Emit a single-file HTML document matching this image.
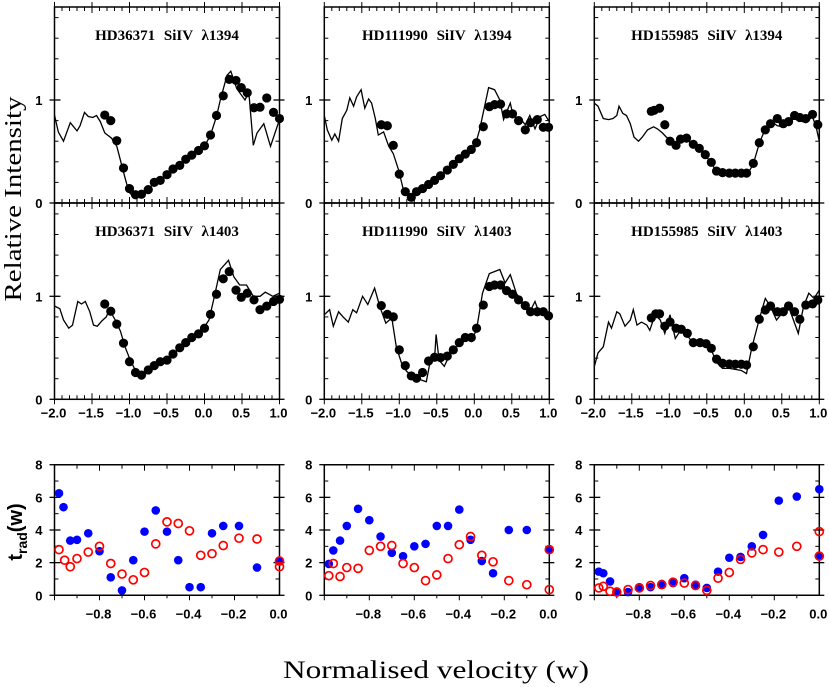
<!DOCTYPE html>
<html><head><meta charset="utf-8"><style>
html,body{margin:0;padding:0;background:#fff}
svg{display:block}
.tl{font-family:"Liberation Sans",sans-serif;font-weight:bold;font-size:13px}
.tt{font-family:"Liberation Serif",serif;font-weight:bold;font-size:15px}
</style></head><body>
<svg id="fig" width="829" height="687" viewBox="0 0 829 687" xmlns="http://www.w3.org/2000/svg">
<text x="21" y="199" transform="rotate(-90 21 199)" text-anchor="middle" font-family="Liberation Serif,serif" font-size="24" textLength="205" lengthAdjust="spacingAndGlyphs">Relative Intensity</text>
<text x="22" y="532" transform="rotate(-90 22 532)" text-anchor="middle" font-family="Liberation Sans,sans-serif" font-weight="bold" font-size="20">t<tspan font-size="14" dy="5">rad</tspan><tspan dy="-5">(w)</tspan></text>
<text x="436" y="678" text-anchor="middle" font-family="Liberation Serif,serif" font-size="25" textLength="306" lengthAdjust="spacingAndGlyphs">Normalised velocity (w)</text>
</svg>
<script>
// ---- data: top panels (velocity, relative intensity) ----
const titles = ["HD36371","HD111990","HD155985"];
const lines = ["1394","1403"];
const topTicksX = [-2.0,-1.5,-1.0,-0.5,0.0,0.5,1.0];
const topTickLabels = ["\u22122.0","\u22121.5","\u22121.0","\u22120.5","0.0","0.5","1.0"];
const a1DotX=[-1.33,-1.25,-1.17,-1.08,-1.0,-0.92,-0.84,-0.75,-0.67,-0.59,-0.5,-0.42,-0.33,-0.25,-0.17,-0.08,0.0,0.08,0.16,0.25,0.33,0.42,0.49,0.57,0.66,0.74,0.83,0.92,1.0];
const a1DotY=[0.854,0.80,0.605,0.34,0.14,0.08,0.085,0.13,0.2,0.22,0.275,0.33,0.365,0.425,0.465,0.51,0.555,0.66,0.85,1.04,1.2,1.19,1.12,1.07,0.925,0.93,1.02,0.88,0.82];
const a1LineX=[-2,-1.95,-1.88,-1.79,-1.7,-1.66,-1.6,-1.55,-1.49,-1.44,-1.39,-1.33,-1.24,-1.17,-1.08,-1.01,-0.95,-0.84,-0.75,-0.67,-0.59,-0.5,-0.42,-0.33,-0.25,-0.17,-0.08,0.0,0.08,0.16,0.21,0.3,0.35,0.43,0.54,0.59,0.65,0.7,0.79,0.88,1.0];
const a1LineY=[0.854,0.69,0.6,0.78,0.7,0.75,0.88,0.84,0.83,0.85,0.79,0.68,0.63,0.55,0.30,0.11,0.06,0.08,0.13,0.2,0.21,0.27,0.32,0.36,0.42,0.46,0.5,0.55,0.66,0.84,1.0,1.24,1.28,1.11,1.0,1.08,0.56,0.68,0.77,0.55,0.81];
const a2DotX=[-1.33,-1.25,-1.17,-1.08,-1.0,-0.92,-0.84,-0.75,-0.67,-0.59,-0.5,-0.42,-0.33,-0.25,-0.17,-0.08,0.0,0.08,0.16,0.25,0.33,0.42,0.49,0.57,0.66,0.74,0.83,0.92,1.0];
const a2DotY=[0.925,0.855,0.73,0.545,0.365,0.26,0.235,0.285,0.327,0.365,0.38,0.44,0.5,0.55,0.6,0.635,0.69,0.825,1.02,1.17,1.24,1.06,0.99,1.03,0.965,0.87,0.905,0.95,0.97];
const a2LineX=[-2,-1.93,-1.88,-1.81,-1.76,-1.69,-1.64,-1.59,-1.53,-1.48,-1.43,-1.37,-1.31,-1.27,-1.19,-1.12,-1.06,-0.99,-0.92,-0.84,-0.75,-0.67,-0.59,-0.5,-0.42,-0.33,-0.25,-0.17,-0.08,0.0,0.06,0.12,0.21,0.32,0.39,0.47,0.56,0.65,0.74,0.81,0.91,1.0];
const a2LineY=[0.906,0.88,0.77,0.69,0.72,0.95,0.925,0.95,0.85,0.72,0.71,0.76,0.80,0.87,0.77,0.66,0.51,0.38,0.28,0.24,0.28,0.33,0.36,0.38,0.43,0.5,0.55,0.6,0.63,0.705,0.77,0.96,1.26,1.35,1.19,1.11,1.11,1.0,1.0,1.04,1.0,1.03];
const b1DotX=[-1.24,-1.16,-1.08,-1.0,-0.92,-0.84,-0.77,-0.69,-0.61,-0.53,-0.45,-0.36,-0.28,-0.2,-0.12,-0.04,0.03,0.12,0.2,0.27,0.35,0.43,0.51,0.59,0.68,0.75,0.84,0.92,0.99];
const b1DotY=[0.76,0.75,0.56,0.28,0.11,0.055,0.11,0.14,0.18,0.22,0.265,0.32,0.375,0.43,0.475,0.52,0.585,0.74,0.935,0.955,0.96,0.865,0.865,0.80,0.71,0.78,0.81,0.735,0.735];
const b1LineX=[-2,-1.96,-1.9,-1.86,-1.81,-1.76,-1.7,-1.66,-1.61,-1.57,-1.51,-1.46,-1.41,-1.37,-1.32,-1.28,-1.21,-1.14,-1.08,-1.01,-0.95,-0.84,-0.77,-0.69,-0.61,-0.53,-0.45,-0.36,-0.28,-0.2,-0.12,-0.01,0.07,0.19,0.27,0.34,0.39,0.44,0.48,0.52,0.61,0.68,0.74,0.81,0.88,0.94,1.0];
const b1LineY=[0.85,0.71,0.61,0.67,0.6,0.82,0.90,1.02,0.94,1.03,1.10,0.92,1.01,0.97,0.82,0.66,0.69,0.55,0.48,0.32,0.14,0.03,0.12,0.15,0.19,0.22,0.26,0.32,0.37,0.42,0.46,0.51,0.71,1.12,1.1,1.0,0.81,0.90,0.97,0.84,0.82,0.76,0.85,0.72,0.84,0.86,0.79];
const b2DotX=[-1.24,-1.16,-1.08,-1.0,-0.92,-0.84,-0.77,-0.69,-0.61,-0.53,-0.45,-0.36,-0.28,-0.2,-0.12,-0.04,0.03,0.12,0.2,0.27,0.35,0.43,0.51,0.59,0.68,0.75,0.84,0.92,0.99];
const b2DotY=[0.91,0.825,0.80,0.48,0.327,0.227,0.204,0.26,0.372,0.408,0.405,0.42,0.48,0.55,0.60,0.60,0.69,0.915,1.095,1.11,1.11,1.055,1.02,0.965,0.91,0.85,0.85,0.85,0.81];
const b2LineX=[-2,-1.93,-1.88,-1.81,-1.75,-1.68,-1.62,-1.57,-1.49,-1.42,-1.33,-1.26,-1.18,-1.1,-1.04,-0.97,-0.9,-0.81,-0.72,-0.64,-0.58,-0.53,-0.51,-0.47,-0.4,-0.33,-0.28,-0.2,-0.12,-0.04,0.03,0.11,0.2,0.34,0.41,0.48,0.56,0.65,0.74,0.81,0.87,0.94,1.0];
const b2LineY=[0.82,0.87,0.71,0.85,0.80,0.75,0.87,0.84,1.0,0.92,1.08,0.90,0.74,0.79,0.51,0.35,0.27,0.22,0.19,0.17,0.40,0.40,0.63,0.38,0.32,0.43,0.47,0.54,0.59,0.56,0.68,1.03,1.22,1.26,1.13,1.21,1.03,0.93,0.85,0.95,0.83,0.87,0.77];
const c1DotX=[-1.24,-1.2,-1.13,-1.06,-0.99,-0.91,-0.85,-0.77,-0.68,-0.6,-0.52,-0.44,-0.37,-0.29,-0.2,-0.12,-0.04,0.03,0.12,0.2,0.28,0.35,0.44,0.52,0.59,0.67,0.74,0.82,0.91,0.98];
const c1DotY=[0.89,0.90,0.92,0.76,0.6,0.56,0.62,0.63,0.57,0.53,0.47,0.395,0.31,0.295,0.29,0.29,0.29,0.29,0.385,0.585,0.71,0.77,0.82,0.77,0.79,0.85,0.83,0.82,0.86,0.76];
const c1LineX=[-2,-1.95,-1.88,-1.81,-1.75,-1.7,-1.67,-1.62,-1.57,-1.52,-1.47,-1.41,-1.36,-1.29,-1.21,-1.16,-1.09,-1.04,-0.99,-0.91,-0.85,-0.77,-0.68,-0.6,-0.52,-0.44,-0.37,-0.29,-0.2,-0.12,-0.04,0.03,0.12,0.2,0.28,0.35,0.44,0.52,0.59,0.67,0.74,0.82,0.91,0.96,1.0];
const c1LineY=[0.97,0.94,0.82,0.81,0.82,0.85,0.94,0.87,0.85,0.77,0.64,0.6,0.64,0.71,0.74,0.72,0.68,0.64,0.62,0.58,0.61,0.62,0.56,0.52,0.46,0.39,0.3,0.28,0.27,0.26,0.27,0.26,0.38,0.58,0.72,0.80,0.75,0.74,0.80,0.82,0.80,0.78,0.84,0.73,0.6];
const c2DotX=[-1.24,-1.18,-1.13,-1.06,-0.99,-0.91,-0.84,-0.76,-0.68,-0.59,-0.51,-0.44,-0.37,-0.29,-0.2,-0.12,-0.04,0.03,0.12,0.2,0.28,0.35,0.44,0.52,0.59,0.67,0.74,0.82,0.91,0.98];
const c2DotY=[0.79,0.83,0.83,0.71,0.75,0.69,0.68,0.64,0.55,0.55,0.54,0.495,0.39,0.35,0.343,0.34,0.34,0.333,0.51,0.777,0.867,0.906,0.85,0.85,0.906,0.85,0.777,0.916,0.926,0.964];
const c2LineX=[-2,-1.95,-1.88,-1.81,-1.77,-1.7,-1.66,-1.59,-1.52,-1.48,-1.43,-1.37,-1.3,-1.26,-1.19,-1.12,-1.06,-0.99,-0.92,-0.84,-0.76,-0.68,-0.59,-0.51,-0.44,-0.37,-0.29,-0.2,-0.12,-0.04,0.03,0.1,0.2,0.28,0.35,0.43,0.52,0.6,0.72,0.79,0.86,0.93,1.0];
const c2LineY=[0.317,0.45,0.51,0.75,0.69,0.85,0.83,0.71,0.77,0.87,0.72,0.75,0.72,0.67,0.82,0.77,0.64,0.82,0.59,0.68,0.62,0.54,0.53,0.52,0.48,0.36,0.3,0.3,0.29,0.28,0.25,0.5,0.78,0.98,0.9,0.77,0.85,0.88,0.64,0.9,1.03,0.98,1.06];
const topDotsX=[[a1DotX,a2DotX],[b1DotX,b2DotX],[c1DotX,c2DotX]];
const topDotsY=[[a1DotY,a2DotY],[b1DotY,b2DotY],[c1DotY,c2DotY]];
const topLineX=[[a1LineX,a2LineX],[b1LineX,b2LineX],[c1LineX,c2LineX]];
const topLineY=[[a1LineY,a2LineY],[b1LineY,b2LineY],[c1LineY,c2LineY]];
// ---- data: bottom panels (t_rad) ----
const botTicksX=[-0.8,-0.6,-0.4,-0.2,0.0];
const botTickLabels=["\u22120.8","\u22120.6","\u22120.4","\u22120.2","0.0"];
const botTicksY=[0,2,4,6,8];
const blue1X=[-0.98,-0.96,-0.93,-0.90,-0.85,-0.80,-0.75,-0.70,-0.65,-0.60,-0.55,-0.50,-0.45,-0.40,-0.35,-0.30,-0.25,-0.18,-0.10,0.0];
const blue1Y=[6.25,5.4,3.35,3.4,3.8,2.7,1.1,0.3,2.15,3.9,5.2,3.9,2.15,0.5,0.5,3.8,4.25,4.25,1.7,2.1];
const red1X=[-0.98,-0.955,-0.93,-0.90,-0.85,-0.80,-0.75,-0.70,-0.65,-0.60,-0.55,-0.50,-0.45,-0.40,-0.35,-0.30,-0.25,-0.18,-0.10,0.0,0.0];
const red1Y=[2.8,2.15,1.75,2.25,2.65,3.0,1.95,1.3,0.95,1.4,3.15,4.5,4.4,3.95,2.45,2.55,3.05,3.5,3.45,2.1,1.75];
const blue2X=[-0.98,-0.96,-0.93,-0.90,-0.85,-0.80,-0.75,-0.70,-0.65,-0.60,-0.55,-0.50,-0.45,-0.40,-0.35,-0.30,-0.25,-0.18,-0.10,0.0];
const blue2Y=[1.92,2.75,3.35,4.25,5.3,4.6,3.6,2.6,2.4,3.0,3.15,4.25,4.25,5.25,3.4,2.1,1.35,4.0,4.0,2.8];
const red2X=[-0.98,-0.96,-0.93,-0.90,-0.85,-0.80,-0.75,-0.70,-0.65,-0.60,-0.55,-0.50,-0.45,-0.40,-0.35,-0.30,-0.25,-0.18,-0.10,0.0,0.0];
const red2Y=[1.2,1.95,1.15,1.7,1.65,2.75,3.0,3.05,1.95,1.7,0.9,1.25,2.25,3.1,3.6,2.45,2.05,0.9,0.65,2.8,0.35];
const blue3X=[-0.98,-0.96,-0.93,-0.90,-0.85,-0.80,-0.75,-0.70,-0.65,-0.60,-0.55,-0.50,-0.45,-0.40,-0.35,-0.30,-0.25,-0.18,-0.10,0.0,0.0];
const blue3Y=[1.45,1.35,0.85,0.2,0.2,0.5,0.5,0.7,0.75,1.05,0.65,0.45,1.45,2.3,2.35,3.0,3.7,5.8,6.05,6.5,2.4];
const red3X=[-0.98,-0.96,-0.93,-0.90,-0.85,-0.80,-0.75,-0.70,-0.65,-0.60,-0.55,-0.50,-0.45,-0.40,-0.35,-0.30,-0.25,-0.18,-0.10,0.0,0.0];
const red3Y=[0.45,0.55,0.25,0.2,0.35,0.45,0.6,0.65,0.8,0.75,0.6,0.3,1.05,1.4,2.2,2.6,2.8,2.65,3.0,3.9,2.4];
const blueX=[blue1X,blue2X,blue3X], blueY=[blue1Y,blue2Y,blue3Y];
const redX=[red1X,red2X,red3X], redY=[red1Y,red2Y,red3Y];

const NS="http://www.w3.org/2000/svg";
const svg=document.getElementById('fig');
const LEFTS=[54.5,324.3,594.3], W=225;
function mk(tag,attrs,parent){const e=document.createElementNS(NS,tag);for(const k in attrs)e.setAttribute(k,attrs[k]);(parent||svg).appendChild(e);return e;}
function ln(g,x1,y1,x2,y2,sw){const e=mk('line',{x1:x1,y1:y1,x2:x2,y2:y2,stroke:'#000','stroke-width':sw||1},g);return e;}

for(let c=0;c<3;c++){
  const L=LEFTS[c], R=L+W;
  const sx=v=>L+(v+2)/3*W;
  for(let r=0;r<2;r++){
    const y0=r===0?203:399.3, top=r===0?7:203, k=103;
    const sy=v=>y0-v*k;
    const g=mk('g',{});
    
    
    const fr=mk('rect',{x:L,y:top,width:W,height:y0-top,fill:'none',stroke:'#000','stroke-width':1.5},g);
    
    
    for(let v=0.2;v<1.85;v+=0.2){const y=sy(v);ln(g,L,y,L+4,y);ln(g,R-4,y,R,y);}
    for(const v of [0,1]){const y=sy(v);ln(g,L-5,y,L+6,y,1.3);ln(g,R-6,y,R+5,y,1.3);
      const t=mk('text',{x:L-12,y:y+5,'text-anchor':'end',class:'tl'},g);t.textContent=String(v);
      
      }
    for(let v=-2;v<=1.001;v+=0.1){const x=sx(v);const maj=Math.abs(v*2-Math.round(v*2))<1e-6;
      ln(g,x,top,x,top+(maj?6:4));ln(g,x,y0,x,y0-(maj?6:4));
      if(maj){ln(g,x,y0,x,y0+5);ln(g,x,top,x,top-5);}}
    if(r===1){topTicksX.forEach((v,i)=>{const t=mk('text',{x:sx(v)-1,y:y0+18,'text-anchor':'middle',class:'tl'},g);t.textContent=topTickLabels[i];
      
      });}
    const tt=mk('text',{x:L+W/2,y:top+33,'text-anchor':'middle',class:'tt','word-spacing':'5'},g);
    tt.textContent=titles[c]+" SiIV \u03bb"+lines[r];
    
    
    const lx=topLineX[c][r], ly=topLineY[c][r];
    const pts=lx.map((v,i)=>sx(v).toFixed(1)+','+sy(ly[i]).toFixed(1)).join(' ');
    const pl=mk('polyline',{points:pts,fill:'none',stroke:'#000','stroke-width':1.3},g);
    
    
    const dx=topDotsX[c][r], dy=topDotsY[c][r];
    dx.forEach((v,i)=>{const d=mk('circle',{cx:sx(v),cy:sy(dy[i]),r:4.6,fill:'#000'},g);
      
      });
  }
  const top=464.7, y0=595.3, k=(y0-top)/8;
  const bx=v=>L+(v+1)*W, by=v=>y0-v*k;
  const g=mk('g',{});
  
  
  ln(g,L,top,R,top,1.5);ln(g,L,y0,R,y0,1.5);ln(g,L,top,L,y0,1.5);ln(g,R,top,R,y0,1.5);
  for(let v=1;v<8;v+=2){const y=by(v);ln(g,L,y,L+4,y);ln(g,R-4,y,R,y);}
  botTicksY.forEach(v=>{const y=by(v);ln(g,L-5,y,L+6,y,1.3);ln(g,R-6,y,R+5,y,1.3);
    const t=mk('text',{x:L-12,y:y+5,'text-anchor':'end',class:'tl'},g);t.textContent=String(v);
    
    });
  for(let i=1;i<10;i++){const x=bx(-1+i*0.1);ln(g,x,top,x,top+(i%2===0?6:4));ln(g,x,y0,x,y0+(i%2===0?5:3));}
  ln(g,L,y0,L,y0+5);
  botTicksX.forEach((v,i)=>{const t=mk('text',{x:bx(v)-1,y:y0+23,'text-anchor':'middle',class:'tl'},g);t.textContent=botTickLabels[i];
    
    });
  blueX[c].forEach((v,i)=>{const d=mk('circle',{cx:bx(v),cy:by(blueY[c][i]),r:4.3,fill:'#0000ff'},g);
    
    });
  redX[c].forEach((v,i)=>{const d=mk('circle',{cx:bx(v),cy:by(redY[c][i]),r:4,fill:'none',stroke:'#ff0000','stroke-width':1.7},g);
    
    });
}
</script>
</body></html>
